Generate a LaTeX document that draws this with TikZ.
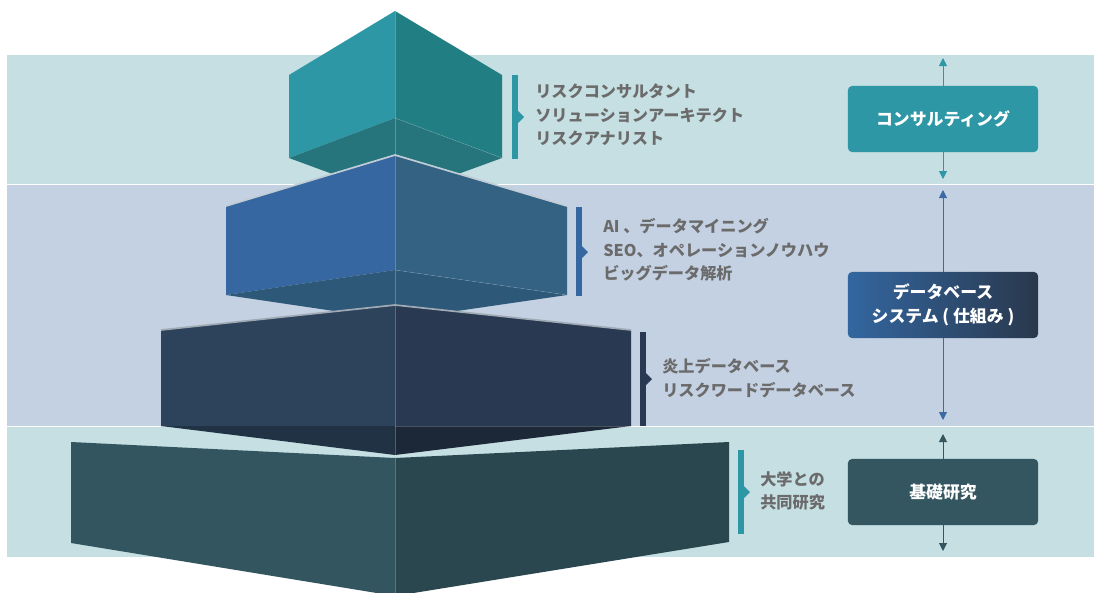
\documentclass[tikz,border=0pt]{standalone}
\usepackage{fontspec}
\setmainfont{Noto Sans CJK JP}
\usepackage{tikz}
\usetikzlibrary{
    arrows.meta,
    positioning
}
\definecolor{bandteal}{HTML}{C5DFE2}
\definecolor{bandblue}{HTML}{C4D1E2}
\definecolor{b1left}{HTML}{2E97A6}
\definecolor{b1right}{HTML}{217F84}
\definecolor{b1bot}{HTML}{26747C}
\definecolor{b2left}{HTML}{3767A0}
\definecolor{b2right}{HTML}{346283}
\definecolor{b2bot}{HTML}{2D5878}
\definecolor{b3left}{HTML}{2D425B}
\definecolor{b3right}{HTML}{293952}
\definecolor{b3botl}{HTML}{223245}
\definecolor{b3botr}{HTML}{1C2738}
\definecolor{b4left}{HTML}{33555F}
\definecolor{b4right}{HTML}{2A4750}
\definecolor{itemgrey}{HTML}{6B6B6B}
\definecolor{dbblue}{HTML}{3366A0}
\definecolor{dbdark}{HTML}{29384C}
\definecolor{dbarrow}{HTML}{3C6AA5}
\definecolor{kisoslate}{HTML}{345660}
\begin{document}
\begin{tikzpicture}[x=0.025cm, y=-0.025cm,
    itemtext/.style={anchor=west, inner sep=0pt, align=left, text=itemgrey,
        font=\bfseries\fontsize{11.5}{16.8}\selectfont},
    levelbox/.style={rounded corners=0.1cm, minimum width=4.75cm, minimum height=1.65cm,
        align=center, text=white, font=\bfseries\fontsize{12}{17}\selectfont},
    levelarrow/.style={-{Triangle[width=0.2cm, length=0.2cm]}, line width=0.7pt}]
    \clip (0,0) rectangle (1094,593);
    \fill[white] (0,0) rectangle (1094,593);
    % bands
    \fill[bandteal] (7,55) rectangle (1094,184);
    \fill[bandblue] (7,185) rectangle (1094,426);
    \fill[bandteal] (7,427) rectangle (1094,557);
    % upper three blocks
    \foreach \l/\r/\ta/\tk/\mc/\bk/\ba/\cl/\cr/\cbl/\cbr in {
        289/502/11/75/118/158/197/b1left/b1right/b1bot/b1bot,
        226/567/155/206/270/295/320/b2left/b2right/b2bot/b2bot,
        161/631/305/330/426/426/455/b3left/b3right/b3botl/b3botr} {
        \fill[\cl] (\l, \tk) -- (395, \ta) -- (395, \mc) -- (\l, \bk) -- cycle;
        \fill[\cr] (395, \ta) -- (\r, \tk) -- (\r, \bk) -- (395, \mc) -- cycle;
        \fill[\cbl] (\l, \bk) -- (395, \mc) -- (395, \ba) -- cycle;
        \fill[\cbr] (395, \mc) -- (\r, \bk) -- (395, \ba) -- cycle;
        \draw[white, opacity=0.25, line width=0.4pt] (395, \ta) -- (395, \ba);
        \draw[white, opacity=0.2, line width=0.4pt] (395, \mc) -- (\r, \bk);
    }
    \draw[color=b2bot!30!white, line width=1.2pt] (226,206) -- (395,155) -- (567,206);
    \draw[color=b3left!45!white, line width=1.2pt] (161,330) -- (395,305) -- (631,330);
    % base block
    \fill[b4left] (71,442) -- (395,458) -- (395,596) -- (71,543) -- cycle;
    \fill[b4right] (395,458) -- (729,442) -- (729,542) -- (395,596) -- cycle;
    \draw[white, opacity=0.25, line width=0.4pt] (395,458) -- (395,596);
    % brackets
    \foreach \bx/\ty/\by/\my/\col in {512/75/159/117/b1left, 576/207/296/252/b2left,
                                     640/332/426/379/b3right, 738/450/534/492/b1left} {
        \fill[\col] (\bx, \ty) rectangle (\bx + 6, \by);
        \fill[\col] (\bx + 6, \my - 6) -- (\bx + 12, \my) -- (\bx + 6, \my + 6) -- cycle;
    }
    % item lists
    \node[itemtext] (jobs) at (535,115) {リスクコンサルタント\\ソリューションアーキテクト\\リスクアナリスト};
    \node[itemtext] (skills) at (603,250) {AI 、データマイニング\\SEO、オペレーションノウハウ\\ビッグデータ解析};
    \node[itemtext] (dbs) at (662,378) {炎上データベース\\リスクワードデータベース};
    \node[itemtext] (univ) at (760,491) {大学との\\共同研究};
    % level boxes
    \node[levelbox, fill=b1left] (consult) at (943,119) {コンサルティング};
    \node[levelbox, left color=dbblue, right color=dbdark] (dbsys) at (943,305) {データベース\\システム ( 仕組み )};
    \node[levelbox, fill=kisoslate] (kiso) at (943,492) {基礎研究};
    \coordinate (consultup) at (943,58);
    \coordinate (consultdown) at (943,179);
    \coordinate (dbsysup) at (943,190);
    \coordinate (dbsysdown) at (943,420);
    \coordinate (kisoup) at (943,434);
    \coordinate (kisodown) at (943,551);
    \draw[levelarrow, b1left] (consult) -- (consultup);
    \draw[levelarrow, b1left] (consult) -- (consultdown);
    \draw[levelarrow, dbarrow] (dbsys) -- (dbsysup);
    \draw[levelarrow, dbarrow] (dbsys) -- (dbsysdown);
    \draw[levelarrow, kisoslate] (kiso) -- (kisoup);
    \draw[levelarrow, kisoslate] (kiso) -- (kisodown);
\end{tikzpicture}
\end{document}
